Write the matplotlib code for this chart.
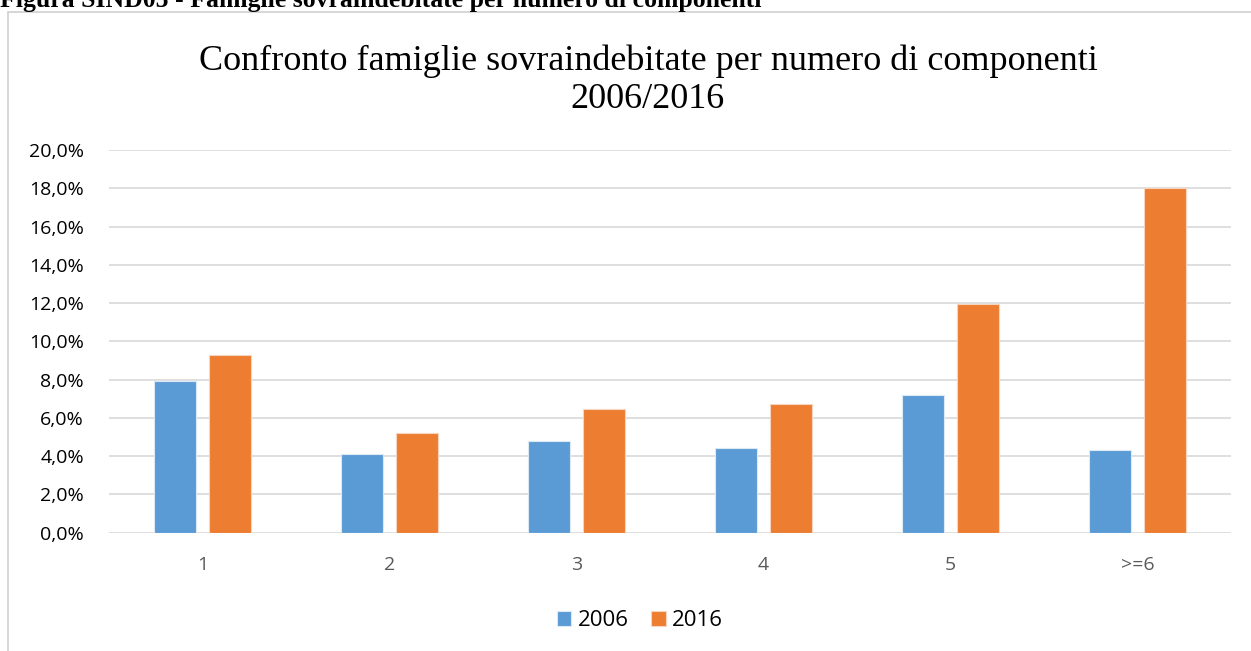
import numpy as np
import matplotlib
matplotlib.use('Agg')
import matplotlib.pyplot as plt
from matplotlib.patches import Rectangle
from matplotlib.ticker import FuncFormatter

# dati
categorie = ['1', '2', '3', '4', '5', '>=6']
val_2006 = [7.93, 4.13, 4.80, 4.45, 7.20, 4.32]
val_2016 = [9.29, 5.20, 6.45, 6.70, 11.97, 18.0]
serie = ['2006', '2016']
colori = ['#5B9BD5', '#ED7D31']
yticks = np.arange(0, 21, 2)

W, H = 1251, 651
fig = plt.figure(figsize=(W/100, H/100), dpi=100)

def fx(px): return px / W
def fy(py): return 1 - py / H

# cornice del grafico (tagliata a destra e in basso)
fig.patches.append(Rectangle((fx(8), fy(700)), fx(1300), fy(12) - fy(700),
                             transform=fig.transFigure, fill=False,
                             edgecolor='#D0D0D0', linewidth=1.2))

# didascalia in alto, tagliata come nell'originale
fig.text(0, fy(7), 'Figura SIND05 - Famiglie sovraindebitate per numero di componenti',
         family='Liberation Serif', fontweight='bold', fontsize=18.5,
         ha='left', va='baseline')

ax = fig.add_axes([fx(109), fy(532.7), fx(1231-109), fy(150) - fy(532.7)])
x = np.arange(len(categorie))
w = 0.225
off = 0.145
ax.bar(x - off, val_2006, w, color=colori[0], edgecolor='#DCE9F5', linewidth=0.8,
       label=serie[0], zorder=3)
ax.bar(x + off, val_2016, w, color=colori[1], edgecolor='#F5D5C0', linewidth=0.8,
       label=serie[1], zorder=3)

ax.set_xlim(-0.5, len(categorie) - 0.5)
ax.set_ylim(0, 20)
ax.set_yticks(yticks)
ax.yaxis.set_major_formatter(FuncFormatter(lambda v, p: f'{v:.1f}%'.replace('.', ',')))
ax.set_xticks(x)
ax.set_xticklabels(categorie)
ax.grid(axis='y', color='#D9D9D9', linewidth=1.2, zorder=0)
for s in ax.spines.values():
    s.set_visible(False)
ax.tick_params(length=0, labelsize=14)
ax.tick_params(axis='x', pad=17, labelcolor='#595959')
ax.tick_params(axis='y', pad=18, labelcolor='black')
for t in ax.get_xticklabels() + ax.get_yticklabels():
    t.set_family('Open Sans')

fig.text(fx(648), fy(80), 'Confronto famiglie sovraindebitate per numero di componenti\n2006/2016',
         family='Liberation Serif', fontsize=26, ha='center', va='center',
         linespacing=1.22)

leg = ax.legend(loc='center', bbox_to_anchor=(fx(640), fy(621)),
                bbox_transform=fig.transFigure, ncol=2, frameon=False,
                prop={'family': 'Open Sans', 'size': 16},
                handlelength=0.65, handleheight=0.65, handletextpad=0.3,
                columnspacing=1.0)

fig.savefig('out.png', dpi=100)
